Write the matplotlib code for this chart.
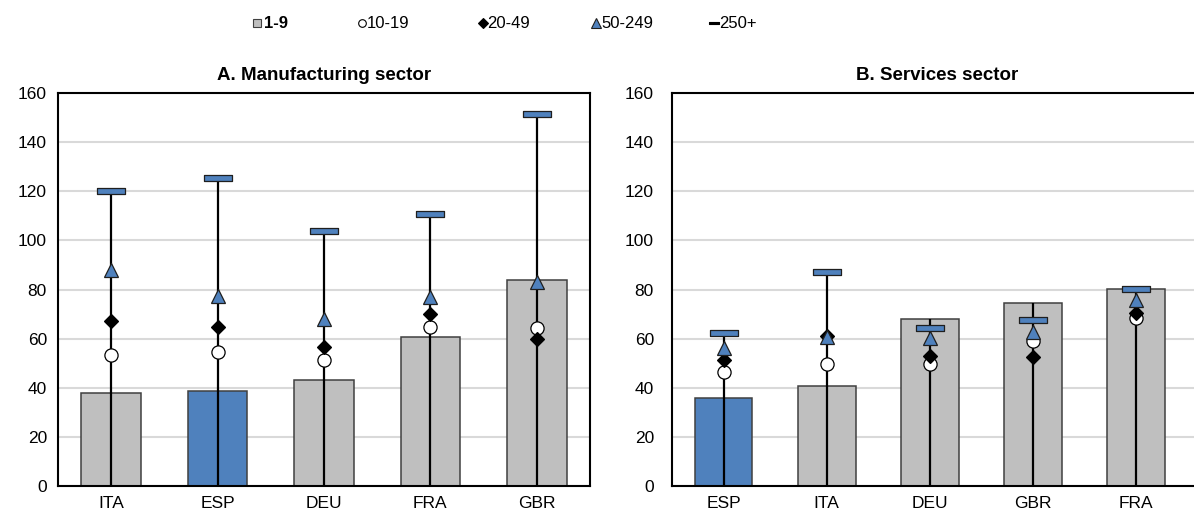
import matplotlib
matplotlib.use("Agg")
import matplotlib.pyplot as plt
import numpy as np
from matplotlib.path import Path
from matplotlib.lines import Line2D

plt.rcParams['font.family'] = ['Liberation Sans', 'DejaVu Sans']

# ---------------- data ----------------
legend_labels = ['1-9', '10-19', '20-49', '50-249', '250+']

manuf_countries = ['ITA', 'ESP', 'DEU', 'FRA', 'GBR']
manuf_1_9 = [38.0, 38.5, 43.0, 60.5, 84.0]
manuf_10_19 = [53.3, 54.7, 51.3, 64.9, 64.5]
manuf_20_49 = [67.0, 64.7, 56.6, 70.0, 60.0]
manuf_50_249 = [88.0, 77.5, 68.0, 77.0, 83.0]
manuf_250 = [120.0, 125.3, 104.0, 110.7, 151.5]

serv_countries = ['ESP', 'ITA', 'DEU', 'GBR', 'FRA']
serv_1_9 = [35.8, 40.7, 67.9, 74.6, 80.3]
serv_10_19 = [46.5, 49.5, 49.5, 59.2, 68.3]
serv_20_49 = [51.3, 61.0, 52.9, 52.7, 70.3]
serv_50_249 = [56.0, 60.5, 60.1, 62.8, 75.7]
serv_250 = [62.2, 87.1, 64.5, 67.7, 80.3]

highlight = 'ESP'
titles = ['A. Manufacturing sector', 'B. Services sector']

# ---------------- style ----------------
GRAY = '#BFBFBF'
BLUE = '#4F81BD'
EDGE = '#404040'
GRID = '#D9D9D9'

dash_marker = Path([(-1, -0.2), (1, -0.2), (1, 0.2), (-1, 0.2), (-1, -0.2)],
                   [Path.MOVETO, Path.LINETO, Path.LINETO, Path.LINETO, Path.CLOSEPOLY])

W, H = 1194, 512
fig = plt.figure(figsize=(W / 100, H / 100), dpi=100)


def px_axes(x0, x1, ytop, ybot):
    return fig.add_axes([x0 / W, 1 - ybot / H, (x1 - x0) / W, (ybot - ytop) / H])


ax1 = px_axes(58, 590, 93, 486)
ax2 = px_axes(672, 1202, 93, 486)


def draw(ax, countries, s1, s2, s3, s4, s5, title, xmax, ypad):
    x = np.arange(len(countries))
    colors = [BLUE if c == highlight else GRAY for c in countries]
    ax.bar(x, s1, width=0.56, color=colors, edgecolor=EDGE, linewidth=1.1, zorder=2)
    tops = np.max(np.vstack([s1, s2, s3, s4, s5]), axis=0)
    ax.vlines(x, 0, tops, color='black', linewidth=1.6, zorder=3)
    ax.plot(x, s2, linestyle='none', marker='o', ms=9.5, mfc='white', mec='black', mew=0.9, zorder=4)
    ax.plot(x, s3, linestyle='none', marker='D', ms=7.0, mfc='black', mec='black', mew=0.9, zorder=5)
    ax.plot(x, s4, linestyle='none', marker='^', ms=10, mfc=BLUE, mec='#1F1F1F', mew=0.9, zorder=6)
    ax.plot(x, s5, linestyle='none', marker=dash_marker, ms=20, mfc=BLUE, mec='#1F1F1F', mew=0.9, zorder=7)

    ax.set_ylim(0, 160)
    ax.set_yticks(np.arange(0, 161, 20))
    ax.set_xlim(-0.5, xmax)
    ax.set_xticks(x)
    ax.set_xticklabels(countries)
    ax.tick_params(axis='both', length=0, labelsize=12.5)
    ax.tick_params(axis='x', pad=7)
    ax.tick_params(axis='y', pad=ypad)
    ax.grid(axis='y', color=GRID, linewidth=1.5)
    ax.set_axisbelow(True)
    for sp in ax.spines.values():
        sp.set_color('black')
        sp.set_linewidth(1.5)
    ax.set_title(title, fontsize=13.5, fontweight='bold', pad=9)


draw(ax1, manuf_countries, manuf_1_9, manuf_10_19, manuf_20_49, manuf_50_249, manuf_250,
     titles[0], 4.5, 8)
draw(ax2, serv_countries, serv_1_9, serv_10_19, serv_20_49, serv_50_249, serv_250,
     titles[1], 4.5 + 14 / 103.0, 13)
ax2.spines['right'].set_visible(False)

# ---------------- legend (top) ----------------
leg_y = 1 - 23 / H
leg_specs = [
    dict(marker='s', ms=5.5, mfc=GRAY, mec=EDGE),
    dict(marker='o', ms=5.5, mfc='white', mec='black'),
    dict(marker='D', ms=4.8, mfc='black', mec='black'),
    dict(marker='^', ms=6.5, mfc=BLUE, mec='#1F1F1F'),
    dict(marker=dash_marker, ms=7, mfc='black', mec='black'),
]
marker_x = [256.5, 362.5, 482.5, 596, 714]
text_x = [264, 367, 487, 601, 719]
for lab, spec, mx, tx in zip(legend_labels, leg_specs, marker_x, text_x):
    fig.add_artist(Line2D([mx / W], [leg_y], transform=fig.transFigure, linestyle='none',
                          mew=0.8, **spec))
    fig.text(tx / W, leg_y, lab, fontsize=12, va='center', ha='left',
             fontweight='bold' if lab == '1-9' else 'normal')

fig.savefig('out.png', dpi=100)
